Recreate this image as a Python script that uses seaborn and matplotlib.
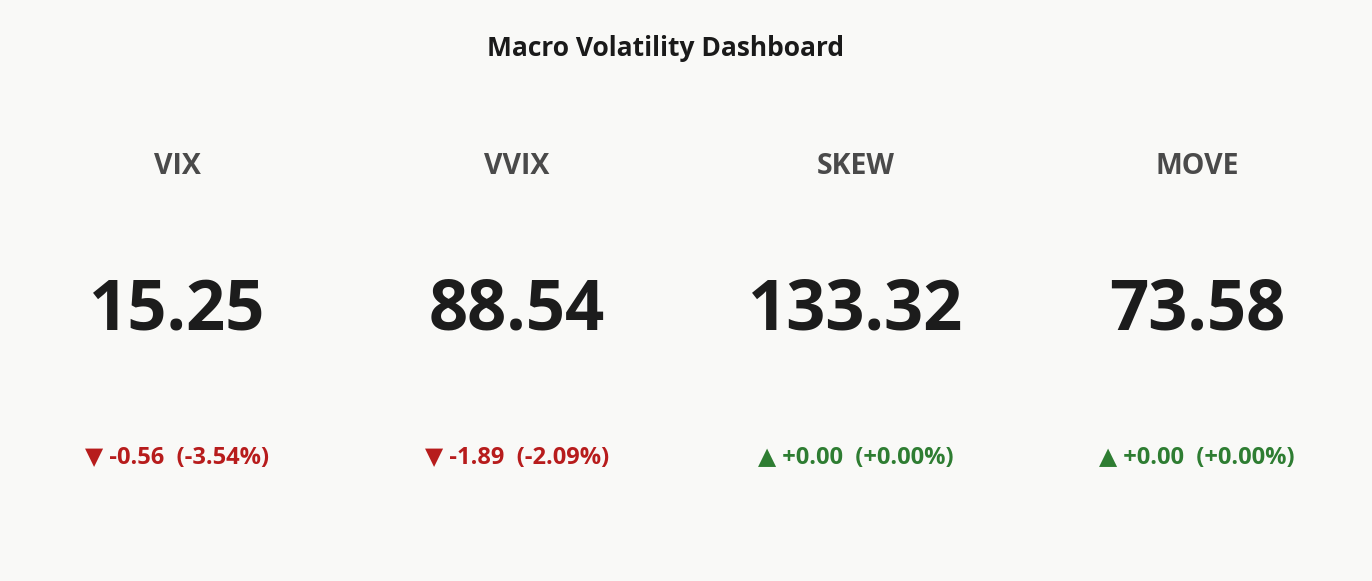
import matplotlib
matplotlib.use("Agg")
import matplotlib.pyplot as plt
import seaborn as sns

names = ["VIX", "VVIX", "SKEW", "MOVE"]
values = [15.25, 88.54, 133.32, 73.58]
changes = [-0.56, -1.89, 0.00, 0.00]
pct_changes = [-3.54, -2.09, 0.00, 0.00]

sns.set_theme(style="white")
plt.rcParams['font.family'] = ['Open Sans', 'DejaVu Sans']
bg = "#f9f9f7"
fig = plt.figure(figsize=(13.72, 5.81), dpi=100, facecolor=bg)
ax = fig.add_axes([0, 0, 1, 1])
ax.set_facecolor(bg)
ax.set_xlim(0, 1372)
ax.set_ylim(581, 0)
ax.axis("off")

fig.text(0.485, 1 - 49 / 581, "Macro Volatility Dashboard", ha="center", va="center",
         fontsize=19, fontweight="bold", color="#1a1a1a")
centers = [177, 517, 856, 1197]
for cx, n, v, c, p in zip(centers, names, values, changes, pct_changes):
    ax.text(cx, 166, n, ha="center", va="center", fontsize=20.5, fontweight="bold", color="#4a4a4a")
    ax.text(cx, 312, f"{v:.2f}", ha="center", va="center", fontsize=49.5, fontweight="bold", color="#1c1c1c")
    down = c < 0
    col = "#b71c1c" if down else "#2e7d32"
    arrow = "▼" if down else "▲"
    ax.text(cx, 458, f"{arrow} {c:+.2f}  ({p:+.2f}%)", ha="center", va="center",
            fontsize=17, fontweight="bold", color=col)

fig.savefig("out.png", dpi=100, facecolor=bg)
